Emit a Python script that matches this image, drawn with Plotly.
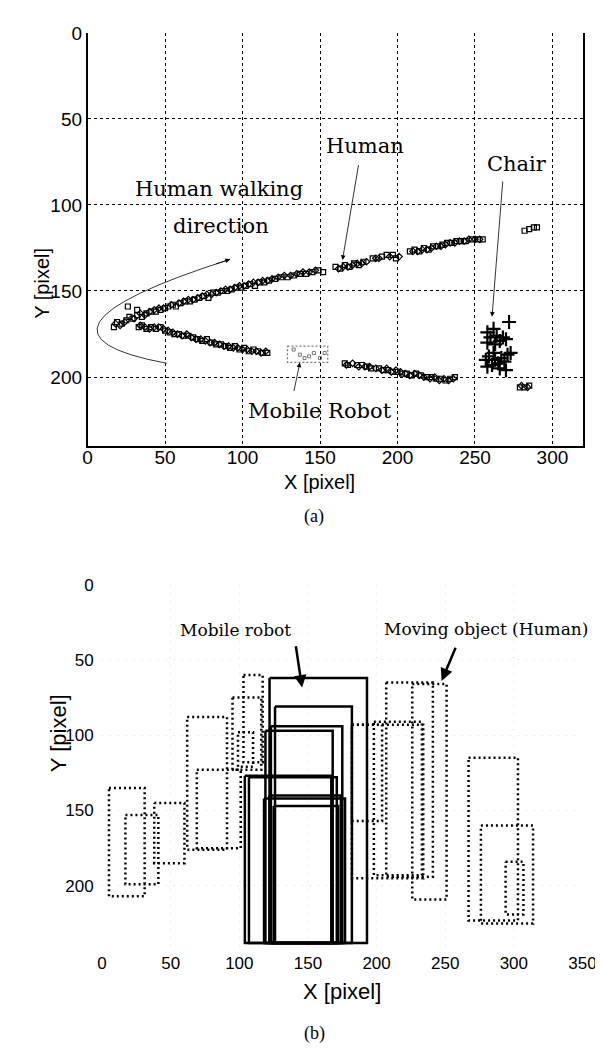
import plotly.graph_objects as go

# ---------------- (a) data ----------------
upper_x = [17, 19, 22, 25, 27, 29, 32, 35, 38, 41, 44, 47, 50, 52, 55, 57, 60, 63, 66, 69, 72, 75, 78, 81, 84, 87,
           90, 93, 96, 99, 102, 105, 108, 111, 114, 117, 121, 125, 129, 133, 137, 141, 145, 149, 152, 160, 163, 166,
           169, 172, 175, 178, 184, 190, 193, 197, 199, 208, 211, 214, 217, 220, 223, 226, 229, 232, 235, 238, 241,
           244, 248, 252, 255, 26, 32, 282, 285, 288, 290]
upper_y = [171, 168, 169, 167, 165, 166, 164, 165, 163, 162, 162, 161, 160, 159, 158, 159, 157, 156, 156, 155, 154,
           153, 154, 151, 151, 150, 150, 149, 148, 148, 147, 146, 147, 145, 145, 144, 143, 142, 142, 141, 140, 140,
           139, 138, 139, 136, 137, 135, 136, 134, 135, 133, 131, 130, 129, 129, 131, 127, 126, 127, 125, 126, 124,
           124, 123, 122, 122, 121, 121, 121, 120, 120, 120, 159, 161, 115, 114, 113, 113]
upper2_x = [18, 21, 24, 30, 34, 37, 40, 43, 46, 49, 54, 59, 62, 65, 68, 71, 74, 77, 80, 83, 86, 89, 92, 95, 98, 101,
            104, 107, 110, 113, 116, 119, 123, 127, 131, 135, 139, 143, 147, 162, 165, 168, 171, 174, 177, 180, 186,
            188, 195, 201, 210, 213, 216, 219, 222, 225, 228, 231, 234, 237, 240, 243, 246, 250, 253]
upper2_y = [169, 170, 168, 166, 163, 164, 162, 161, 160, 160, 158, 157, 156, 155, 155, 154, 153, 152, 152, 151, 150,
            149, 149, 148, 147, 147, 146, 145, 145, 144, 144, 143, 142, 141, 141, 140, 139, 139, 138, 137, 136, 136,
            135, 134, 134, 133, 131, 131, 130, 130, 127, 127, 126, 126, 125, 124, 124, 123, 122, 122, 121, 121, 120,
            120, 120]
lower_x = [33, 35, 38, 41, 44, 47, 50, 53, 56, 59, 62, 65, 68, 71, 74, 77, 80, 83, 86, 89, 92, 95, 98, 101, 104, 107,
           110, 113, 116, 166, 168, 174, 177, 180, 183, 188, 191, 194, 197, 200, 203, 206, 209, 212, 215, 219, 222,
           225, 228, 231, 234, 237, 279, 282, 285]
lower_y = [171, 170, 172, 171, 172, 171, 173, 174, 175, 175, 176, 176, 177, 178, 179, 178, 180, 181, 181, 182, 183,
           182, 184, 183, 185, 184, 185, 186, 186, 192, 193, 193, 193, 194, 195, 195, 196, 196, 197, 197, 198, 198,
           199, 198, 199, 200, 200, 201, 201, 202, 201, 200, 206, 206, 205]
lower2_x = [34, 37, 40, 43, 46, 49, 52, 55, 58, 61, 64, 67, 70, 73, 76, 79, 82, 85, 88, 91, 94, 97, 100, 103, 106, 109,
            112, 115, 167, 171, 175, 179, 182, 186, 190, 193, 196, 199, 202, 205, 208, 211, 214, 217, 221, 224, 227,
            230, 233, 236, 280, 284]
lower2_y = [170, 171, 172, 171, 171, 172, 173, 174, 175, 176, 175, 177, 178, 178, 179, 180, 180, 181, 182, 182, 183,
            183, 184, 184, 185, 185, 186, 185, 193, 192, 194, 194, 194, 195, 196, 195, 197, 196, 197, 198, 199, 198,
            199, 200, 201, 200, 202, 201, 202, 201, 205, 206]
robot_pts_x = [133, 137, 140, 143, 146, 150, 153]
robot_pts_y = [184, 187, 189, 188, 186, 189, 186]
robot_rect = [129, 155, 182, 191.5]  # x0, x1, y0, y1
chair_x = [258, 260, 262, 264, 266, 268, 270, 258, 272, 263, 257, 259, 261, 263, 265, 267, 269, 271, 258, 266, 270,
           262, 273]
chair_y = [174, 177, 172, 176, 179, 177, 178, 180, 168, 181, 190, 188, 193, 190, 192, 189, 191, 187, 194, 195, 196,
           186, 186]
walk_curve = [(51, 192), (-56, 174), (92, 131.6)]  # quadratic path: start, control, end

ticks_a_x = [0, 50, 100, 150, 200, 250, 300]
ticks_a_y = [0, 50, 100, 150, 200]

# ---------------- (b) data ----------------
# robot boxes (solid): x0, x1, y0, y1
rb_x0 = [122, 126, 123, 119, 104, 107, 122, 125, 118]
rb_x1 = [193, 182, 175, 168, 167, 171, 174, 172, 177]
rb_y0 = [62, 81, 94, 97, 127, 128, 140, 147, 142]
rb_y1 = [238, 238, 238, 238, 238, 238, 238, 238, 238]
# human boxes (dotted)
hb_x0 = [5, 17, 38, 62, 69, 95, 103, 99, 226, 207, 182, 198, 182, 267, 276, 294]
hb_x1 = [31, 41, 60, 91, 101, 116, 117, 110, 251, 241, 234, 233, 204, 303, 314, 307]
hb_y0 = [135, 153, 145, 88, 123, 75, 60, 98, 66, 65, 93, 91, 93, 115, 160, 184]
hb_y1 = [207, 199, 185, 176, 175, 123, 118, 121, 209, 194, 195, 193, 157, 223, 225, 219]

ticks_b_x = [0, 50, 100, 150, 200, 250, 300, 350]
ticks_b_y = [0, 50, 100, 150, 200]

W, H = 603, 1050
fig = go.Figure()

# ---- (a) traces ----
fig.add_trace(go.Scatter(x=upper_x + lower_x, y=upper_y + lower_y, mode="markers",
                         marker=dict(symbol="square-open", size=5, color="black", line=dict(width=1.2)),
                         xaxis="x", yaxis="y", showlegend=False))
fig.add_trace(go.Scatter(x=upper2_x + lower2_x, y=upper2_y + lower2_y, mode="markers",
                         marker=dict(symbol="diamond-open", size=5, color="black", line=dict(width=1.2)),
                         xaxis="x", yaxis="y", showlegend=False))
fig.add_trace(go.Scatter(x=robot_pts_x, y=robot_pts_y, mode="markers",
                         marker=dict(symbol="square-open", size=3, color="#777", line=dict(width=1)),
                         xaxis="x", yaxis="y", showlegend=False))
rx0, rx1, ry0, ry1 = robot_rect
fig.add_trace(go.Scatter(x=[rx0, rx1, rx1, rx0, rx0], y=[ry0, ry0, ry1, ry1, ry0], mode="lines",
                         line=dict(color="#777", width=1.2, dash="2px,2px"),
                         xaxis="x", yaxis="y", showlegend=False))
fig.add_trace(go.Scatter(x=chair_x, y=chair_y, mode="markers",
                         marker=dict(symbol="cross-thin", size=10, color="black", line=dict(width=2.2, color="black")),
                         xaxis="x", yaxis="y", showlegend=False))

# ---- (b) traces ----
for x0, x1, y0, y1 in zip(hb_x0, hb_x1, hb_y0, hb_y1):
    fig.add_trace(go.Scatter(x=[x0, x1, x1, x0, x0], y=[y0, y0, y1, y1, y0], mode="lines",
                             line=dict(color="black", width=2.5, dash="2px,3px"),
                             xaxis="x2", yaxis="y2", showlegend=False))
for x0, x1, y0, y1 in zip(rb_x0, rb_x1, rb_y0, rb_y1):
    fig.add_trace(go.Scatter(x=[x0, x1, x1, x0, x0], y=[y0, y0, y1, y1, y0], mode="lines",
                             line=dict(color="black", width=2.5),
                             xaxis="x2", yaxis="y2", showlegend=False))

tickfont_a = dict(family="Liberation Sans, Arial", size=19, color="black")
tickfont_b = dict(family="Liberation Sans, Arial", size=17, color="black")
grid_a = dict(showgrid=True, gridcolor="black", gridwidth=1, griddash="3px,3px", zeroline=False)

fig.update_layout(
    width=W, height=H, margin=dict(l=0, r=0, t=0, b=0),
    paper_bgcolor="white", plot_bgcolor="white",
    xaxis=dict(domain=[77 / W, 589 / W], range=[0, 320], tickvals=ticks_a_x, tickfont=tickfont_a,
               showline=True, linecolor="black", linewidth=1.5, ticks="", ticklabelstandoff=-6,
               anchor="y", **grid_a),
    yaxis=dict(domain=[1 - 432 / H, 1 - 15 / H], range=[240, 0], tickvals=ticks_a_y, tickfont=tickfont_a,
               showline=True, mirror=True, linecolor="black", linewidth=1.5, ticks="", anchor="x", **grid_a),
    xaxis2=dict(domain=[92 / W, 588 / W], range=[0, 350], tickvals=ticks_b_x, tickfont=tickfont_b,
                showline=False, ticks="outside", ticklen=2, tickcolor="rgba(0,0,0,0)", anchor="y2",
                showgrid=True, gridcolor="#dddddd", gridwidth=1, griddash="1px,7px", zeroline=False),
    yaxis2=dict(domain=[1 - 937 / H, 1 - 572 / H], range=[240, 0], tickvals=ticks_b_y, tickfont=tickfont_b,
                showline=False, ticks="outside", ticklen=4, tickcolor="rgba(0,0,0,0)", anchor="x2",
                showgrid=True, gridcolor="#dddddd", gridwidth=1, griddash="1px,7px", zeroline=False),
)

(p0, c, p2) = walk_curve
fig.add_shape(type="path", xref="x", yref="y",
              path=f"M {p0[0]},{p0[1]} Q {c[0]},{c[1]} {p2[0]},{p2[1]}",
              line=dict(color="black", width=0.8))

serif_a = dict(family="DejaVu Serif", size=21, color="black")
serif_b = dict(family="DejaVu Serif", size=17, color="black")
ann = []
# (a) labels
ann.append(dict(x=85, y=90.5, xref="x", yref="y", text="Human walking", showarrow=False, font=serif_a))
ann.append(dict(x=86, y=112.5, xref="x", yref="y", text="direction", showarrow=False, font=serif_a))
ann.append(dict(x=179, y=66, xref="x", yref="y", text="Human", showarrow=False, font=serif_a))
ann.append(dict(x=277, y=76, xref="x", yref="y", text="Chair", showarrow=False, font=serif_a))
ann.append(dict(x=150, y=220, xref="x", yref="y", text="Mobile Robot", showarrow=False, font=serif_a))
# (a) arrows
for (tx, ty, hx, hy) in [(175, 76, 164.5, 132), (268, 85.5, 261, 165), (133, 209, 137, 191.5),
                         (82, 134.5, p2[0], p2[1])]:
    ann.append(dict(x=hx, y=hy, ax=tx, ay=ty, xref="x", yref="y", axref="x", ayref="y", text="",
                    showarrow=True, arrowhead=2, arrowsize=1.2, arrowwidth=0.8, arrowcolor="black"))
# (b) labels
ann.append(dict(x=97, y=30, xref="x2", yref="y2", text="Mobile robot", showarrow=False, font=serif_b))
ann.append(dict(x=280, y=29.6, xref="x2", yref="y2", text="Moving object (Human)", showarrow=False, font=serif_b))
for (tx, ty, hx, hy) in [(141, 40, 145.7, 68.4), (258, 41, 247.4, 64)]:
    ann.append(dict(x=hx, y=hy, ax=tx, ay=ty, xref="x2", yref="y2", axref="x2", ayref="y2", text="",
                    showarrow=True, arrowhead=2, arrowsize=1, arrowwidth=2.5, arrowcolor="black"))
# axis titles and captions
sans_a = dict(family="Liberation Sans, Arial", size=20, color="black")
sans_b = dict(family="Liberation Sans, Arial", size=22, color="black")
times = dict(family="Liberation Serif, Times New Roman", size=18, color="black")
ann.append(dict(x=17 / W, y=1 - 230 / H, xref="paper", yref="paper", text="Y [pixel]", textangle=-90,
                showarrow=False, font=sans_a))
ann.append(dict(x=316 / W, y=1 - 468 / H, xref="paper", yref="paper", text="X [pixel]", showarrow=False, font=sans_a))
ann.append(dict(x=311 / W, y=1 - 503 / H, xref="paper", yref="paper", text="(a)", showarrow=False, font=times))
ann.append(dict(x=32 / W, y=1 - 763 / H, xref="paper", yref="paper", text="Y [pixel]", textangle=-90,
                showarrow=False, font=sans_b))
ann.append(dict(x=340 / W, y=1 - 997 / H, xref="paper", yref="paper", text="X [pixel]", showarrow=False, font=sans_b))
ann.append(dict(x=311 / W, y=1 - 1038 / H, xref="paper", yref="paper", text="(b)", showarrow=False, font=times))
fig.update_layout(annotations=ann)

fig.write_html("out.html")
